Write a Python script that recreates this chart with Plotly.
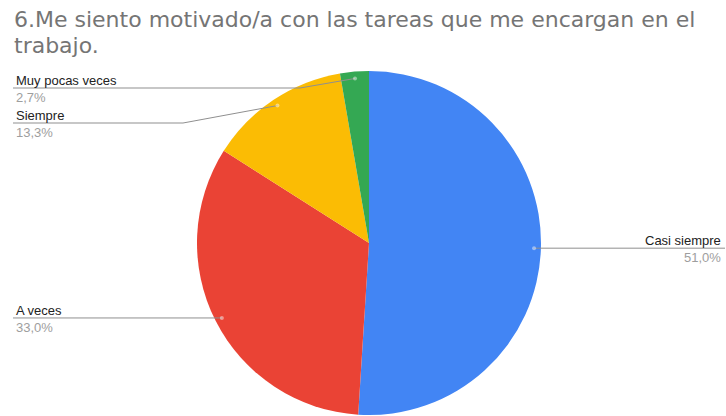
import math
import plotly.graph_objects as go

# Survey answers and their shares (%)
categories = ["Casi siempre", "A veces", "Siempre", "Muy pocas veces"]
values = [51.0, 33.0, 13.3, 2.7]
colors = ["#4285f4", "#ea4335", "#fbbc04", "#34a853"]
title_lines = ["6.Me siento motivado/a con las tareas que me encargan en el", "trabajo."]

W, H = 726, 416
CX, CY, R = 369, 243, 172          # pie centre / radius in pixels
FONT = "Liberation Sans, Arial, sans-serif"
TITLE_FONT = "DejaVu Sans, Arial, sans-serif"


def px(x):
    return x / W


def py(y):
    return 1 - y / H


fig = go.Figure(
    go.Pie(
        labels=categories,
        values=values,
        sort=False,
        direction="clockwise",
        rotation=0,
        marker=dict(colors=colors, line=dict(width=0)),
        textinfo="none",
        hoverinfo="label+percent",
        showlegend=False,
        domain=dict(x=[px(CX - R), px(CX + R)], y=[py(CY + R), py(CY - R)]),
    )
)

# Leader-line placement for each label: side, y of the horizontal run, x of the knee
label_pos = {
    "Casi siempre": dict(side="right", line_y=None, knee_x=None),
    "A veces": dict(side="left", line_y=None, knee_x=None),
    "Siempre": dict(side="left", line_y=123, knee_x=183),
    "Muy pocas veces": dict(side="left", line_y=88, knee_x=300),
}

shapes = []
annotations = []
total = sum(values)
cum = 0.0
for name, v in zip(categories, values):
    mid = (cum + v / 2) / total * 2 * math.pi
    cum += v
    ax = CX + 0.96 * R * math.sin(mid)
    ay = CY - 0.96 * R * math.cos(mid)
    lp = label_pos[name]
    ly = lp["line_y"] if lp["line_y"] is not None else ay
    if lp["side"] == "right":
        end_x, tx, xanchor = W - 1, W - 4, "right"
    else:
        end_x, tx, xanchor = 13, 15, "left"
    pts = [(ax, ay)]
    if lp["knee_x"] is not None:
        pts.append((lp["knee_x"], ly))
    pts.append((end_x, ly))
    path = "M " + " L ".join(f"{px(x)},{py(y)}" for x, y in pts)
    shapes.append(dict(type="path", xref="paper", yref="paper", path=path,
                       line=dict(color="#8f8f8f", width=1)))
    shapes.append(dict(type="circle", xref="paper", yref="paper",
                       x0=px(ax - 2), x1=px(ax + 2), y0=py(ay + 2), y1=py(ay - 2),
                       fillcolor="rgba(255,255,255,0.45)", line=dict(width=0)))
    pct = f"{v / total * 100:.1f}".replace(".", ",") + "%"
    annotations.append(dict(x=px(tx), y=py(ly - 7.5), xref="paper", yref="paper",
                            text=name, showarrow=False, xanchor=xanchor, yanchor="middle",
                            borderpad=0,
                            font=dict(family=FONT, size=13, color="#222222")))
    annotations.append(dict(x=px(tx), y=py(ly + 9.5), xref="paper", yref="paper",
                            text=pct, showarrow=False, xanchor=xanchor, yanchor="middle",
                            borderpad=0,
                            font=dict(family=FONT, size=13, color="#9e9e9e")))

for i, line in enumerate(title_lines):
    annotations.append(dict(x=px(13), y=py(19.5 + 26 * i), xref="paper", yref="paper",
                            text=line, showarrow=False, xanchor="left", yanchor="middle",
                            borderpad=0,
                            font=dict(family=TITLE_FONT, size=22, color="#757575")))

fig.update_layout(
    width=W,
    height=H,
    margin=dict(l=0, r=0, t=0, b=0),
    paper_bgcolor="white",
    plot_bgcolor="white",
    shapes=shapes,
    annotations=annotations,
)

fig.write_html("out.html")
